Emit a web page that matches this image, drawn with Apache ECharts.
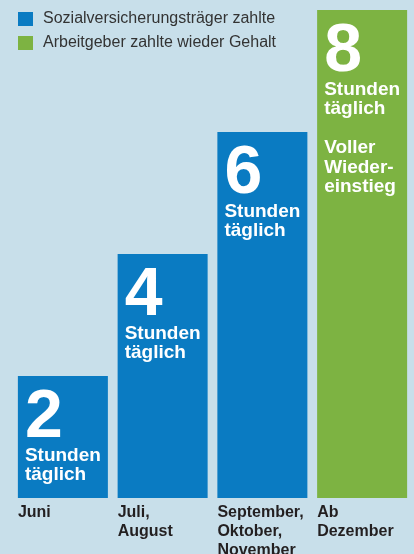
<!DOCTYPE html>
<html>
<head>
<meta charset="utf-8">
<script src="https://cdn.jsdelivr.net/npm/echarts@6/dist/echarts.min.js"></script>
<style>
html,body{margin:0;padding:0;background:#c8dfea;}
#c{width:414px;height:554px;}
</style>
</head>
<body>
<div id="c"></div>
<script>
const categories = ['Juni', 'Juli,\nAugust', 'September,\nOktober,\nNovember', 'Ab\nDezember'];
const seriesNames = ['Sozialversicherungsträger zahlte', 'Arbeitgeber zahlte wieder Gehalt'];
const insuranceHours = [2, 4, 6, '-'];
const employerHours = ['-', '-', '-', 8];
const unitText = 'Stunden\ntäglich';
const notes = ['', '', '', 'Voller\nWieder-\neinstieg'];

const BLUE = '#0a7bc2';
const GREEN = '#7db342';
const FONT = '"Liberation Sans", Arial, sans-serif';

function barLabelFormatter(p) {
  let s = '{n|' + p.value + '}\n' + unitText.split('\n').map(t => '{s|' + t + '}').join('\n');
  const note = notes[p.dataIndex];
  if (note) s += '\n{s| }\n' + note.split('\n').map(t => '{s|' + t + '}').join('\n');
  return s;
}

const barLabel = {
  show: true,
  position: 'insideTopLeft',
  distance: 0,
  offset: [7, 14],
  formatter: barLabelFormatter,
  rich: {
    n: { fontSize: 68, lineHeight: 56, fontWeight: 'bold', color: '#fff', fontFamily: FONT },
    s: { fontSize: 19, lineHeight: 19.5, fontWeight: 'bold', color: '#fff', fontFamily: FONT }
  }
};

const chart = echarts.init(document.getElementById('c'), null, { renderer: 'canvas' });
chart.setOption({
  backgroundColor: '#c8dfea',
  animation: false,
  legend: {
    orient: 'vertical',
    left: 18,
    top: 11,
    padding: 0,
    itemWidth: 15,
    itemHeight: 14,
    itemGap: 8,
    icon: 'rect',
    selectedMode: false,
    textStyle: { fontSize: 16, color: '#333', fontFamily: FONT, padding: [0, 0, 0, 5] },
    data: seriesNames
  },
  grid: { left: 13, right: 2, top: 10, bottom: 56, containLabel: false, outerBoundsMode: 'none' },
  xAxis: {
    type: 'category',
    data: categories,
    axisLine: { show: false },
    axisTick: { show: false },
    axisLabel: {
      interval: 0,
      hideOverlap: false,
      margin: 5,
      align: 'center',
      verticalAlign: 'top',
      formatter: v => v.split('\n').map(t => '{a|' + t + '}').join('\n'),
      rich: {
        a: { width: 90, align: 'left', fontSize: 16, lineHeight: 19, fontWeight: 'bold', color: '#231f20', fontFamily: FONT }
      }
    }
  },
  yAxis: {
    type: 'value',
    min: 0,
    max: 8,
    show: false,
    splitLine: { show: false }
  },
  series: [
    {
      name: seriesNames[0],
      type: 'bar',
      data: insuranceHours,
      barWidth: 90,
      barGap: '-100%',
      itemStyle: { color: BLUE },
      label: barLabel
    },
    {
      name: seriesNames[1],
      type: 'bar',
      data: employerHours,
      barWidth: 90,
      barGap: '-100%',
      itemStyle: { color: GREEN },
      label: barLabel
    }
  ]
});
</script>
</body>
</html>
